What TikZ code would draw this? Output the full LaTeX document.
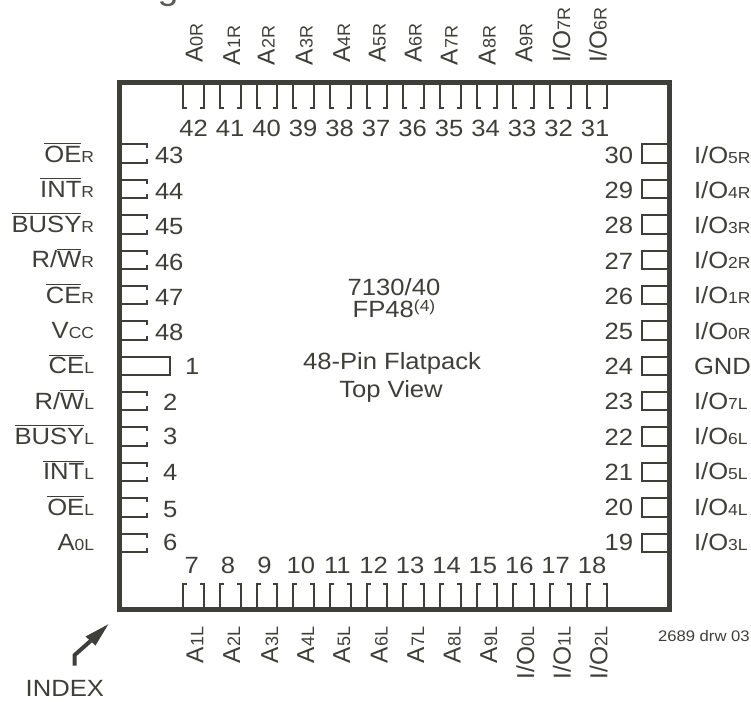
\documentclass[tikz,border=0pt]{standalone}
\usepackage{fontspec}
\setmainfont{Liberation Sans}
\newfontfamily\hf[FakeStretch=1.09]{Liberation Sans}
\newcommand\sm[1]{{\fontsize{16}{16}\selectfont #1}}
\newcommand\smr[1]{{\fontsize{18}{18}\selectfont #1}}
\newcommand\ov[1]{\leavevmode\vbox{\hrule height 1pt \kern 1.8pt \hbox{#1}}}
\definecolor{ink}{HTML}{3F3F39}
\tikzset{
  lab/.style={inner sep=0pt,outer sep=0pt,text=ink,font=\hf\fontsize{23.5}{23.5}\selectfont},
  rot/.style={inner sep=0pt,outer sep=0pt,text=ink,rotate=90,anchor=base west,font=\rmfamily\fontsize{24.5}{24.5}\selectfont},
  pin/.style={draw=ink,line width=2pt,line cap=butt,line join=miter},
  frame/.style={draw=ink,line width=5pt,line join=miter},
}
\begin{document}
\begin{tikzpicture}[x=1pt,y=-1pt]
\useasboundingbox (0,0) rectangle (751,701);
% clipped heading
\begin{scope}
\clip (0,0) rectangle (751,30);
\node[lab,anchor=base west,font=\hf\fontsize{34.5}{34.5}\selectfont,text=ink!85] (title) at (5,-0.6) {Pin Configurations};
\end{scope}
% package
\node[frame,minimum width=550.2pt,minimum height=527pt,inner sep=0pt,outer sep=0pt,anchor=north west] (body) at (119.3,82.5) {};
% top and bottom pins
\foreach \i in {0,...,11}{
  \pgfmathsetmacro\xa{183.3+36.67*\i}
  \pgfmathsetmacro\xb{\xa+20.6}
  \draw[pin] (\xa,84)--(\xa,108)--(\xa+4,108);
  \draw[pin] (\xb,84)--(\xb,108)--(\xb-4,108);
  \draw[pin] (\xa,608)--(\xa,584)--(\xa+4,584);
  \draw[pin] (\xb,608)--(\xb,584)--(\xb-4,584);
}
% side pins
\foreach \i in {0,...,11}{
  \pgfmathsetmacro\ya{144.4+35.38*\i}
  \pgfmathsetmacro\yb{\ya+18.4}
  \ifnum\i=6
    \draw[pin] (120,\ya)--(170,\ya)--(170,\yb)--(120,\yb);
  \else
    \draw[pin] (120,\ya)--(146.6,\ya)--(146.6,\ya+4)  (146.6,\yb-4)--(146.6,\yb)--(120,\yb);
  \fi
  \draw[pin] (669,\ya)--(642,\ya)--(642,\yb)--(669,\yb);
}
% left labels
\foreach \t [count=\i from 0] in {{\ov{OE}\sm{R}},{\ov{INT}\sm{R}},{\ov{BUSY}\sm{R}},{R/\ov{W}\sm{R}},{\ov{CE}\sm{R}},{V\sm{CC}},{\ov{CE}\sm{L}},{R/\ov{W}\sm{L}},{\ov{BUSY}\sm{L}},{\ov{INT}\sm{L}},{\ov{OE}\sm{L}},{A\sm{0L}}}
  \node[lab,anchor=base east] (ll\i) at (94,{162+35.3*\i}) {\t};
% right labels
\foreach \t [count=\i from 0] in {{I/O\sm{5R}},{I/O\sm{4R}},{I/O\sm{3R}},{I/O\sm{2R}},{I/O\sm{1R}},{I/O\sm{0R}},{GND},{I/O\sm{7L}},{I/O\sm{6L}},{I/O\sm{5L}},{I/O\sm{4L}},{I/O\sm{3L}}}
  \node[lab,anchor=base west] (rl\i) at (694,{163+35.2*\i}) {\t};
% left numbers
\foreach \n/\x/\y in {43/155/163.5,44/155/199,45/155/234,46/155/270,47/155/305,48/155/340,1/185/374,2/163/410.5,3/163/444,4/163/480,5/163/517,6/163/550.7}
  \node[lab,anchor=base west] (n\n) at (\x,\y) {\n};
% right numbers
\foreach \n [count=\i from 0] in {30,29,...,19}
  \node[lab,anchor=base east] (n\n) at (633,{163.5+35.2*\i}) {\n};
% top numbers
\foreach \n [count=\i from 0] in {42,41,...,31}
  \node[lab,anchor=base] (n\n) at ({193.7+36.5*\i},136) {\n};
% bottom numbers
\foreach \n [count=\i from 0] in {7,8,...,18}
  \node[lab,anchor=base] (n\n) at ({191.7+36.4*\i},573.3) {\n};
% top labels
\foreach \t/\x/\y [count=\i] in {{A\smr{0R}}/202.7/63,{A\smr{1R}}/240/65,{A\smr{2R}}/274.5/65,{A\smr{3R}}/312.7/65,{A\smr{4R}}/350/63,{A\smr{5R}}/385.5/63,{A\smr{6R}}/421.7/63,{A\smr{7R}}/457.7/65,{A\smr{8R}}/495.7/65,{A\smr{9R}}/532.3/63,{I/O\smr{7R}}/570/63,{I/O\smr{6R}}/606.7/63}
  \node[rot] (tl\i) at (\x,\y) {\t};
% bottom labels
\foreach \t/\x/\y [count=\i] in {{A\smr{1L}}/203.3/663,{A\smr{2L}}/240/663,{A\smr{3L}}/278/663,{A\smr{4L}}/314/663,{A\smr{5L}}/350/663,{A\smr{6L}}/387.7/663,{A\smr{7L}}/424/663,{A\smr{8L}}/460.7/663,{A\smr{9L}}/497/663,{I/O\smr{0L}}/534/679,{I/O\smr{1L}}/570.7/679,{I/O\smr{2L}}/607.3/679}
  \node[rot] (bl\i) at (\x,\y) {\t};
% centre text
\node[lab,anchor=base] (c1) at (394,295) {7130/40};
\node[lab,anchor=base] (c2) at (394,317) {FP48\raisebox{6pt}{\sm{(4)}}};
\node[lab,anchor=base] (c3) at (392,369) {48-Pin Flatpack};
\node[lab,anchor=base] (c4) at (391,397) {Top View};
\node[lab,anchor=base west,font=\hf\fontsize{15.3}{15.3}\selectfont] (drw) at (658,641.7) {2689 drw 03};
\node[lab,anchor=base west] (idx) at (25.7,696.7) {INDEX};
% index arrow
\coordinate (as) at (74.7,665.5);
\coordinate (ab) at (74.7,655);
\coordinate (am) at (90.5,641);
\coordinate (at) at (108.3,624.3);
\coordinate (h1) at (85.5,636.5);
\coordinate (h2) at (95.5,645.5);
\draw[draw=ink,line width=4pt] (as)--(ab)--(am);
\fill[ink] (at)--(h1)--(h2)--cycle;
\end{tikzpicture}
\end{document}
